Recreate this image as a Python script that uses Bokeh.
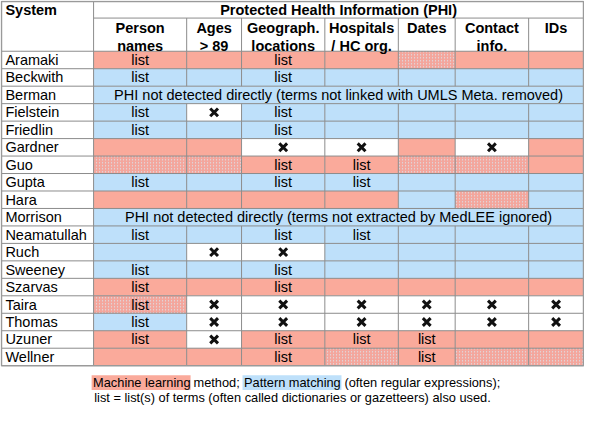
from bokeh.plotting import figure
from bokeh.models import Range1d, ColumnDataSource
from bokeh.core.properties import value
from bokeh.embed import file_html
from bokeh.resources import INLINE

# ---------------- data ----------------
systems = ["Aramaki", "Beckwith", "Berman", "Fielstein", "Friedlin", "Gardner", "Guo",
           "Gupta", "Hara", "Morrison", "Neamatullah", "Ruch", "Sweeney", "Szarvas",
           "Taira", "Thomas", "Uzuner", "Wellner"]
columns = ["Person\nnames", "Ages\n> 89", "Geograph.\nlocations", "Hospitals\n/ HC org.",
           "Dates", "Contact\ninfo.", "IDs"]
# M = machine learning, P = pattern matching, H = hatched (n/a), N = not detected, S = spanned note
fills = ["MMMMHMM", "PPPPPPP", "S", "PNPPPPP", "PPPPPPP", "MMNNMNM", "HHMMHHM",
         "PPPPPPP", "MMMMPHP", "S", "PPPPPPP", "PNNPPPP", "PPPPPPP", "MMMMMMM",
         "HNNNNNN", "PNNNNNN", "MNMMMMM", "MMMHMHH"]
# L = "list", X = not detected, . = empty
marks = ["L.L....", "L.L....", "", "LXL....", "L.L....", "..XX.X.", "..LL...",
         "L.LL...", ".......", "", "L.LL...", ".XX....", "L.L....", "L.L....",
         "LXXXXXX", "LXXXXXX", "LXLLL..", "..L.L.."]
span_notes = {"Berman": "PHI not detected directly (terms not linked with UMLS Meta. removed)",
              "Morrison": "PHI not detected directly (terms not extracted by MedLEE ignored)"}
header_title = "Protected Health Information (PHI)"
legend_line2 = "list = list(s) of terms (often called dictionaries or gazetteers) also used."

# ---------------- layout ----------------
FONT = "Liberation Sans"
FS = "14.5px"
LFS = "12.8px"
ML_COL = "#FAAA9B"
PM_COL = "#BEE0FA"
GRID = "#8c8c8c"
col_edges = [97, 192, 248, 333, 408, 466, 541, 597]
T_LEFT, T_RIGHT = 3, 597
H_TOP, H_MID, H_BOT = 3, 20, 54
ROW_H = 17.9

p = figure(width=584, height=405, output_backend="svg", toolbar_location=None,
           x_range=Range1d(2, 598), y_range=Range1d(417, 2), min_border=0)
p.axis.visible = False
p.grid.visible = False
p.outline_line_color = None
p.background_fill_color = "white"

color_of = {"M": ML_COL, "P": PM_COL, "N": "white"}
q = dict(l=[], r=[], t=[], b=[], c=[])
hq = dict(l=[], r=[], t=[], b=[])
list_x, list_y, x_x, x_y = [], [], [], []
name_y = []
span_x, span_y, span_t = [], [], []
for i, (s, f, m) in enumerate(zip(systems, fills, marks)):
    top = H_BOT + i * ROW_H
    bot = top + ROW_H
    cy = (top + bot) / 2
    name_y.append(cy)
    if f == "S":
        q["l"].append(col_edges[0]); q["r"].append(col_edges[-1])
        q["t"].append(top); q["b"].append(bot); q["c"].append(PM_COL)
        span_x.append((col_edges[0] + col_edges[-1]) / 2); span_y.append(cy)
        span_t.append(span_notes[s])
        continue
    for j, code in enumerate(f):
        l, r = col_edges[j], col_edges[j + 1]
        if code == "H":
            hq["l"].append(l); hq["r"].append(r); hq["t"].append(top); hq["b"].append(bot)
        else:
            q["l"].append(l); q["r"].append(r); q["t"].append(top); q["b"].append(bot)
            q["c"].append(color_of[code])
        mk = m[j]
        if mk == "L":
            list_x.append((l + r) / 2); list_y.append(cy)
        elif mk == "X":
            x_x.append((l + r) / 2); x_y.append(cy)

p.quad(left="l", right="r", top="t", bottom="b", fill_color="c", line_color=None,
       source=ColumnDataSource(q))
p.quad(left="l", right="r", top="t", bottom="b", fill_color="#E0D4D8", line_color=None,
       hatch_pattern="/", hatch_color="#F4A69C", hatch_scale=3, hatch_weight=1.4,
       source=ColumnDataSource(hq))

# grid lines
x0, y0, x1, y1 = [], [], [], []
n = len(systems)
T_BOT = H_BOT + n * ROW_H
x0.append(col_edges[0]); x1.append(T_RIGHT); y0.append(H_MID); y1.append(H_MID)
for i in range(n):
    yy = H_BOT + i * ROW_H
    x0.append(T_LEFT); x1.append(T_RIGHT); y0.append(yy); y1.append(yy)
x0.append(col_edges[0]); x1.append(col_edges[0]); y0.append(H_TOP); y1.append(T_BOT)
for e in col_edges[1:-1]:
    x0.append(e); x1.append(e); y0.append(H_MID); y1.append(H_BOT)
    for i, f in enumerate(fills):
        if f == "S":
            continue
        top = H_BOT + i * ROW_H
        x0.append(e); x1.append(e); y0.append(top); y1.append(top + ROW_H)
p.segment(x0=x0, y0=y0, x1=x1, y1=y1, line_color=GRID, line_width=1)
p.quad(left=[T_LEFT], right=[T_RIGHT], top=[H_TOP], bottom=[T_BOT], fill_color=None,
       line_color="#9a9a9a", line_width=1.5)

# texts
p.text(x=[7], y=[12], text=["System"], text_font=value(FONT), text_font_style="bold",
       text_font_size=FS, text_baseline="middle", text_align="left")
p.text(x=[(col_edges[0] + col_edges[-1]) / 2], y=[12], text=[header_title], text_font=value(FONT),
       text_font_style="bold", text_font_size=FS, text_baseline="middle", text_align="center")
hx = [(col_edges[j] + col_edges[j + 1]) / 2 for j in range(len(columns))]
p.text(x=hx, y=[22] * len(columns), text=columns, text_font=value(FONT), text_font_style="bold",
       text_font_size=FS, text_baseline="top", text_align="center", text_line_height=1.1)
p.text(x=[7] * n, y=name_y, text=systems, text_font=value(FONT), text_font_size=FS,
       text_baseline="middle", text_align="left")
p.text(x=list_x, y=list_y, text=["list"] * len(list_x), text_font=value(FONT),
       text_font_size=FS, text_baseline="middle", text_align="center")
p.text(x=span_x, y=span_y, text=span_t, text_font=value(FONT), text_font_size=FS,
       text_baseline="middle", text_align="center")
p.scatter(x=x_x, y=x_y, marker="x", size=11, line_width=3, line_color="#111111")

# legend / caption
p.quad(left=[95, 249], right=[196, 350], top=[386, 386], bottom=[401, 401],
       fill_color=[ML_COL, PM_COL], line_color=None)
seg_x = [96.5, 199, 250.5, 353]
seg_t = ["Machine learning", "method;", "Pattern matching", "(often regular expressions);"]
p.text(x=seg_x, y=[393.5] * 4, text=seg_t, text_font=value(FONT), text_font_size=LFS,
       text_baseline="middle", text_align="left")
p.text(x=[300], y=[408.5], text=[legend_line2], text_font=value(FONT), text_font_size=LFS,
       text_baseline="middle", text_align="center")

open("out.html", "w").write(file_html(p, INLINE))
